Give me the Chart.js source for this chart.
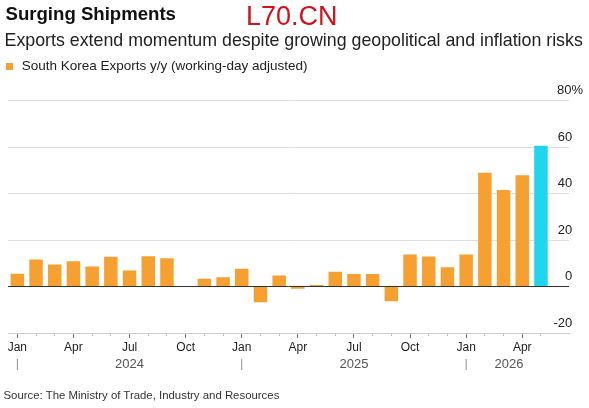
<!DOCTYPE html>
<html>
<head>
<meta charset="utf-8">
<script src="https://cdn.jsdelivr.net/npm/chart.js@4.4.1/dist/chart.umd.min.js"></script>
<style>
  html, body { margin:0; padding:0; background:#fff; }
  body { width:589px; height:408px; position:relative; overflow:hidden; font-family:'Liberation Sans', Arial, sans-serif; }
  .t { position:absolute; line-height:1; white-space:nowrap; }
  #wrap { position:absolute; left:0; top:0; width:589px; height:408px; }
</style>
</head>
<body>
<div id="wrap"><canvas id="c"></canvas></div>
<div class="t" style="left:5.5px; top:5px; font-size:18.6px; font-weight:bold; color:#111;">Surging Shipments</div>
<div class="t" style="left:246px; top:3px; font-size:27px; color:#d0121b;">L70.CN</div>
<div class="t" style="left:4.6px; top:31.6px; font-size:17.8px; color:#222;">Exports extend momentum despite growing geopolitical and inflation risks</div>
<div style="position:absolute; left:6px; top:63px; width:7px; height:7px; background:#f5a030;"></div>
<div class="t" style="left:21.7px; top:58.6px; font-size:13.5px; color:#222;">South Korea Exports y/y (working-day adjusted)</div>
<div class="t" style="left:3.5px; top:389.6px; font-size:11.4px; color:#333;">Source: The Ministry of Trade, Industry and Resources</div>
<script>
// ---- data ----
const categories = [
  'Jan 2024','Feb 2024','Mar 2024','Apr 2024','May 2024','Jun 2024','Jul 2024','Aug 2024','Sep 2024','Oct 2024','Nov 2024','Dec 2024',
  'Jan 2025','Feb 2025','Mar 2025','Apr 2025','May 2025','Jun 2025','Jul 2025','Aug 2025','Sep 2025','Oct 2025','Nov 2025','Dec 2025',
  'Jan 2026','Feb 2026','Mar 2026','Apr 2026','May 2026'
];
const exportsYoY = [
  5.5, 11.6, 9.5, 10.9, 8.6, 12.8, 6.9, 13.0, 12.2, 0.0, 3.3, 4.0,
  7.7, -6.8, 4.7, -1.0, 0.7, 6.4, 5.4, 5.4, -6.3, 13.8, 12.9, 8.3,
  13.8, 49.0, 41.6, 47.9, 60.6
];
const shownMonths = ['Jan','Apr','Jul','Oct'];
const yearLabelAt = { 'Jul 2024':'2024', 'Jul 2025':'2025', 'Mar 2026':'   2026' };
const yTickValues = [-20, 0, 20, 40, 60, 80];
const seriesName = 'South Korea Exports y/y (working-day adjusted)';

const ORANGE = '#f5a030';
const CYAN = '#1fd6ee';
const FONT = "'Liberation Sans', Arial, sans-serif";

// labels with one trailing empty slot for the right-hand label gutter
const axisLabels = categories.concat(['']);
const barColors = exportsYoY.map((v, i) => i === exportsYoY.length - 1 ? CYAN : ORANGE);
const nReal = categories.length;

new Chart(document.getElementById('c'), {
  type: 'bar',
  data: {
    labels: axisLabels,
    datasets: [{
      label: seriesName,
      data: exportsYoY,
      backgroundColor: barColors,
      borderWidth: 0,
      barPercentage: 0.72,
      categoryPercentage: 1.0,
      xAxisID: 'x',
      yAxisID: 'y'
    }]
  },
  options: {
    responsive: true,
    maintainAspectRatio: false,
    animation: false,
    layout: { padding: { left: 8, right: 20, top: 100.7, bottom: 38 } },
    plugins: { legend: { display: false }, tooltip: { enabled: false } },
    scales: {
      x: {
        type: 'category',
        position: 'bottom',
        weight: 0,
        offset: true,
        grid: {
          display: true,
          offset: false,
          drawOnChartArea: false,
          drawTicks: true,
          tickLength: 5,
          tickWidth: 1,
          tickColor: (ctx) => ctx.index >= nReal ? 'rgba(0,0,0,0)' : (ctx.index % 3 === 0 ? '#777' : '#bbb'),
          tickBorderDash: (ctx) => ctx.index % 3 === 0 ? [] : [2, 30]
        },
        border: { display: true, color: '#cccccc', width: 1 },
        ticks: {
          autoSkip: false,
          maxRotation: 0,
          minRotation: 0,
          padding: 2,
          color: '#222',
          font: { family: FONT, size: 12 },
          callback: (v, i) => {
            if (i >= nReal) return '';
            const m = categories[i].split(' ')[0];
            return shownMonths.includes(m) ? m : '';
          }
        },
        afterFit: (s) => { s.height = 21; }
      },
      x2: {
        type: 'category',
        position: 'bottom',
        weight: 1,
        offset: true,
        grid: { display: false, drawTicks: false, offset: false },
        border: { display: false },
        ticks: {
          autoSkip: false,
          maxRotation: 0,
          minRotation: 0,
          padding: 3,
          font: { family: FONT, size: 13 },
          color: (ctx) => {
            const c = categories[ctx.index] || '';
            return c.startsWith('Jan') ? '#999' : '#555';
          },
          callback: (v, i) => {
            if (i >= nReal) return '';
            const c = categories[i];
            if (yearLabelAt[c]) return yearLabelAt[c];
            return c.startsWith('Jan') ? '|' : '';
          }
        },
        afterFit: (s) => { s.height = 16; }
      },
      y: {
        type: 'linear',
        position: 'right',
        min: -20,
        max: 80,
        afterBuildTicks: (s) => { s.ticks = yTickValues.map(v => ({ value: v })); },
        afterFit: (s) => { s.width = 0; },
        grid: {
          drawTicks: false,
          color: (ctx) => ctx.tick && ctx.tick.value === 0 ? '#333' : (ctx.tick && ctx.tick.value === -20 ? '#cccccc' : '#dedede'),
          lineWidth: 1
        },
        border: { display: false },
        ticks: {
          mirror: true,
          padding: 14,
          labelOffset: -10,
          color: '#222',
          font: { family: FONT, size: 13 },
          callback: (v) => v === 80 ? '80%' : String(v) + '   '
        }
      }
    }
  }
});
</script>
</body>
</html>
